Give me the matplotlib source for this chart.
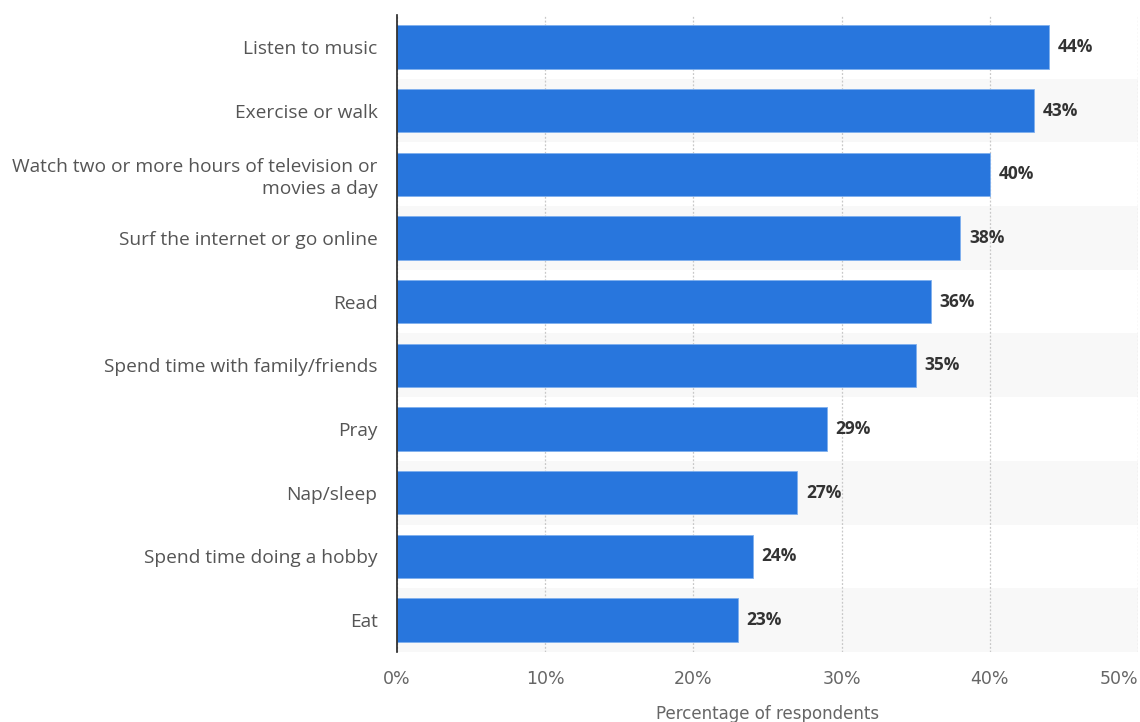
import matplotlib
matplotlib.use("Agg")
import matplotlib.pyplot as plt
from matplotlib.ticker import FuncFormatter

categories = ["Listen to music", "Exercise or walk",
              "Watch two or more hours of television or\nmovies a day",
              "Surf the internet or go online", "Read",
              "Spend time with family/friends", "Pray", "Nap/sleep",
              "Spend time doing a hobby", "Eat"]
values = [44, 43, 40, 38, 36, 35, 29, 27, 24, 23]
x_ticks = [0, 10, 20, 30, 40, 50]

fig = plt.figure(figsize=(11.4, 7.22), dpi=100)
ax = fig.add_axes([397/1140, 1 - 652/722, 741/1140, 637/722])

n = len(categories)
ypos = list(range(n))

# alternating row bands
for i in ypos:
    if i % 2 == 1:
        ax.axhspan(i - 0.5, i + 0.5, color="#f8f8f8", zorder=0, lw=0)

ax.barh(ypos, values, height=0.68, color="#2876dd", edgecolor="#7fb0ee",
        linewidth=0.6, zorder=3)

for y, v in zip(ypos, values):
    ax.text(v + 0.6, y, f"{v}%", va="center", ha="left", fontsize=12.5,
            fontweight="bold", color="#333333", family="Open Sans", zorder=4)

ax.set_ylim(n - 0.5, -0.5)
ax.set_xlim(0, 50)
ax.set_yticks(ypos)
ax.set_yticklabels(categories, fontsize=13.8, color="#555555", family="Open Sans",
                   linespacing=1.3)
ax.set_xticks(x_ticks)
ax.xaxis.set_major_formatter(FuncFormatter(lambda v, p: f"{int(v)}%"))
xlabels = ax.get_xticklabels()
for lab in xlabels:
    lab.set_family(["Liberation Sans Narrow", "DejaVu Sans"])
    lab.set_fontsize(12.5)
    lab.set_color("#666666")
xlabels[-1].set_horizontalalignment("right")
xlabels[-1].set_x(50.4)
ax.tick_params(axis="both", length=0)
ax.tick_params(axis="x", pad=13)
ax.tick_params(axis="y", pad=14)

ax.grid(axis="x", linestyle=(0, (1.5, 1.5)), color="#c8c8c8", linewidth=0.9, zorder=1)
ax.grid(axis="y", visible=False)
for s in ["top", "right", "bottom"]:
    ax.spines[s].set_visible(False)
ax.spines["left"].set_color("#222222")
ax.spines["left"].set_linewidth(1.2)
ax.spines["left"].set_zorder(5)

ax.set_xlabel("Percentage of respondents", fontsize=12, color="#666666",
              family=["Liberation Sans Narrow", "DejaVu Sans"], labelpad=12)

fig.savefig("out.png", dpi=100)
